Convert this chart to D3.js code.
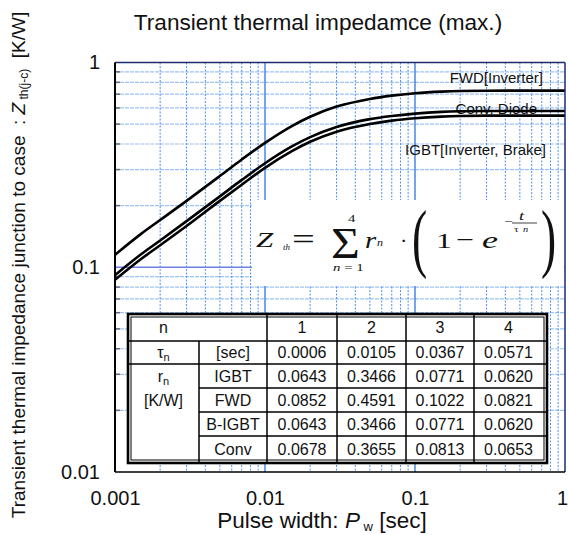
<html>
<head>
<script src="https://d3js.org/d3.v7.min.js"></script>
<style>
  body { margin: 0; background: #fff; }
  text { font-family: "Liberation Sans", Arial, sans-serif; fill: #111; }
  .math { font-family: "Liberation Serif", "Times New Roman", serif; }
</style>
</head>
<body>
<svg id="chart" width="569" height="535"></svg>
<script>

// values
const pulseWidth = [0.001, 0.0015, 0.002, 0.003, 0.005, 0.007, 0.01, 0.015, 0.02, 0.03, 0.05, 0.07, 0.1, 0.15, 0.2, 0.3, 0.5, 1]
const zthFWD  = [0.115, 0.146, 0.170, 0.211, 0.279, 0.336, 0.405, 0.488, 0.543, 0.609, 0.664, 0.689, 0.708, 0.721, 0.726, 0.728, 0.729, 0.729]
const zthConv = [0.0915, 0.116, 0.135, 0.168, 0.222, 0.267, 0.322, 0.388, 0.432, 0.484, 0.529, 0.548, 0.563, 0.574, 0.578, 0.580, 0.580, 0.580]
const zthIGBT = [0.0868, 0.110, 0.128, 0.159, 0.211, 0.253, 0.306, 0.368, 0.410, 0.459, 0.501, 0.520, 0.534, 0.544, 0.548, 0.550, 0.550, 0.550]

const xTicks = ["0.001", "0.01", "0.1", "1"]
const yTicks = ["0.01", "0.1", "1"]

const tableHead = ["1", "2", "3", "4"]
const tauN = ["0.0006", "0.0105", "0.0367", "0.0571"]
const rowNames = ["IGBT", "FWD", "B-IGBT", "Conv"]
const rIGBT  = ["0.0643", "0.3466", "0.0771", "0.0620"]
const rFWD   = ["0.0852", "0.4591", "0.1022", "0.0821"]
const rBIGBT = ["0.0643", "0.3466", "0.0771", "0.0620"]
const rConv  = ["0.0678", "0.3655", "0.0813", "0.0653"]

const svg = d3.select("#chart")
const pLeft = 115, pRight = 565, pTop = 62.5, pBottom = 472

const x = d3.scaleLog().domain([0.001, 1]).range([pLeft, pRight])
const y = d3.scaleLog().domain([0.01, 1]).range([pBottom, pTop])

svg.append("rect").attr("width", 569).attr("height", 535).attr("fill", "#fff")

// grid
let minorX = [], minorY = []
;[0.001, 0.01, 0.1].forEach(d => { for (let k = 2; k <= 9; k++) minorX.push(k * d) })
;[0.01, 0.1].forEach(d => { for (let k = 2; k <= 9; k++) minorY.push(k * d) })

const grid = svg.append("g")
grid.selectAll(".hy").data(minorY).join("line")
    .attr("x1", pLeft).attr("x2", pRight)
    .attr("y1", d => y(d)).attr("y2", d => y(d))
    .style("stroke", "#9ec4f4").style("stroke-width", 1.2).style("stroke-dasharray", "4,1")
grid.append("line")
    .attr("x1", pLeft).attr("x2", pRight).attr("y1", y(0.1)).attr("y2", y(0.1))
    .style("stroke", "#6f7fe6").style("stroke-width", 1.5)
grid.selectAll(".vx").data(minorX).join("line")
    .attr("x1", d => x(d)).attr("x2", d => x(d))
    .attr("y1", pTop).attr("y2", pBottom)
    .style("stroke", "#4a90ea").style("stroke-width", 1).style("stroke-dasharray", "2,1.5")
grid.selectAll(".vd").data([0.01, 0.1]).join("line")
    .attr("x1", d => x(d)).attr("x2", d => x(d))
    .attr("y1", pTop).attr("y2", pBottom)
    .style("stroke", "#3a7fe4").style("stroke-width", 1.4)
grid.selectAll(".tk").data(minorY).join("line")
    .attr("x1", pLeft).attr("x2", pLeft + 5)
    .attr("y1", d => y(d)).attr("y2", d => y(d))
    .style("stroke", "#667").style("stroke-width", 1.5)

// formula box
svg.append("rect").attr("x", 252).attr("y", 200).attr("width", pRight - 252 - 1).attr("height", 86).attr("fill", "#fff")

const f = svg.append("g")
function mt(px, py, size, txt, italic, sx) {
    return f.append("text").attr("class", "math")
        .attr("transform", `translate(${px},${py}) scale(${sx || 1},1)`)
        .style("font-size", size + "px").style("font-style", italic ? "italic" : "normal").text(txt)
}
mt(256, 247, 22, "Z", true, 1.4)
mt(283, 250, 9, "th", true, 1)
mt(292, 248.5, 30, "=", false, 1.35)
mt(331, 258, 45, "\u03A3", false, 1.1)
mt(348, 222, 10.5, "4", false, 1.4)
let nb = mt(333, 271, 11, "n", true, 1.35)
nb.append("tspan").style("font-style", "normal").text(" = 1")
mt(365, 248, 24, "r", true, 1.2)
mt(377, 246, 11, "n", true, 1.1)
mt(400, 247.5, 22, "\u00B7", false, 1)
mt(412, 263, 76, "(", false, 0.6)
mt(436, 248, 22, "1", false, 1.45)
mt(456, 246.5, 22, "\u2212", false, 1.45)
mt(482, 248, 24, "e", true, 1.5)
mt(504, 225, 11, "\u2212", false, 1.4)
mt(519, 220, 13, "t", true, 1.4)
f.append("line").attr("x1", 512).attr("x2", 537).attr("y1", 223).attr("y2", 223)
    .style("stroke", "#111").style("stroke-width", 0.8)
mt(514, 232, 9, "\u03C4", false, 1.3)
mt(523, 232, 8, "n", true, 1.3)
mt(541, 263, 76, ")", false, 0.6)

// table
const colX = [128, 199, 267, 337, 406, 474, 547]
const rowY = [314, 341, 364, 388, 412, 436, 463]
const tb = svg.append("g")
tb.append("rect").attr("x", colX[0]).attr("y", rowY[0])
    .attr("width", colX[6] - colX[0]).attr("height", rowY[6] - rowY[0])
    .attr("fill", "#fff").style("stroke", "#000").style("stroke-width", 2.6)
tb.append("rect").attr("x", colX[0] + 3).attr("y", rowY[0] + 3)
    .attr("width", colX[6] - colX[0] - 6).attr("height", rowY[6] - rowY[0] - 6)
    .attr("fill", "none").style("stroke", "#000").style("stroke-width", 1)
;[1, 2].forEach(i => tb.append("line").attr("x1", colX[0]).attr("x2", colX[6])
    .attr("y1", rowY[i]).attr("y2", rowY[i]).style("stroke", "#000").style("stroke-width", 1.5))
;[3, 4, 5].forEach(i => tb.append("line").attr("x1", colX[1]).attr("x2", colX[6])
    .attr("y1", rowY[i]).attr("y2", rowY[i]).style("stroke", "#000").style("stroke-width", 1.5))
tb.append("line").attr("x1", colX[1]).attr("x2", colX[1]).attr("y1", rowY[1]).attr("y2", rowY[6])
    .style("stroke", "#000").style("stroke-width", 1.5)
;[2, 3, 4, 5].forEach(i => tb.append("line").attr("x1", colX[i]).attr("x2", colX[i])
    .attr("y1", rowY[0]).attr("y2", rowY[6]).style("stroke", "#000").style("stroke-width", 1.5))

const colC = i => (colX[i] + colX[i + 1]) / 2 - (i == 5 ? 2 : 0)
const rowC = j => (rowY[j] + rowY[j + 1]) / 2 + 5.5
function cell(px, py, txt) {
    return tb.append("text").attr("x", px).attr("y", py).attr("text-anchor", "middle")
        .style("font-size", "16px").text(txt)
}
cell(colC(0), rowC(0), "n")
tableHead.forEach((t, i) => cell(colC(i + 2), rowC(0), t))
let tau = cell(colC(0), rowC(1), "\u03C4")
tau.append("tspan").attr("dy", 3).style("font-size", "11px").text("n")
cell(colC(1), rowC(1), "[sec]")
tauN.forEach((t, i) => cell(colC(i + 2), rowC(1), t))
let rn = cell(colC(0), 382, "r")
rn.append("tspan").attr("dy", 3).style("font-size", "11px").text("n")
cell(colC(0), 406, "[K/W]")
const rRows = [rIGBT, rFWD, rBIGBT, rConv]
rowNames.forEach((name, j) => {
    cell(colC(1), rowC(j + 2), name)
    rRows[j].forEach((v, i) => cell(colC(i + 2), rowC(j + 2), v))
})

// curve labels
const curveLabels = ["FWD[Inverter]", "Conv. Diode", "IGBT[Inverter, Brake]"]
const labelPos = [[543, 83], [537, 114], [546, 155]]
curveLabels.forEach((t, i) => svg.append("text")
    .attr("x", labelPos[i][0]).attr("y", labelPos[i][1]).attr("text-anchor", "end")
    .style("font-size", "15px").text(t))

// curves
svg.append("clipPath").attr("id", "clip").append("rect")
    .attr("x", pLeft).attr("y", pTop).attr("width", pRight - pLeft).attr("height", pBottom - pTop)
const line = d3.line().x(d => x(d[0])).y(d => y(d[1])).curve(d3.curveMonotoneX)
;[zthFWD, zthConv, zthIGBT].forEach(series => {
    svg.append("path").datum(d3.zip(pulseWidth, series))
        .attr("d", line).attr("clip-path", "url(#clip)")
        .style("fill", "none").style("stroke", "#000").style("stroke-width", 2.6)
})

// frame
svg.append("line").attr("x1", pLeft).attr("x2", pRight).attr("y1", pTop).attr("y2", pTop)
    .style("stroke", "#1d2a6a").style("stroke-width", 1.5)
svg.append("line").attr("x1", pRight).attr("x2", pRight).attr("y1", pTop).attr("y2", pBottom)
    .style("stroke", "#1d2a6a").style("stroke-width", 1.5)
svg.append("line").attr("x1", pLeft).attr("x2", pRight).attr("y1", pBottom).attr("y2", pBottom)
    .style("stroke", "#000").style("stroke-width", 1.5)
svg.append("line").attr("x1", pLeft).attr("x2", pLeft).attr("y1", pTop).attr("y2", pBottom)
    .style("stroke", "#000").style("stroke-width", 2)

// axes
const xAxis = svg.append("g").attr("transform", `translate(0,${pBottom})`)
    .call(d3.axisBottom(x).tickValues(xTicks.map(Number)).tickFormat((d, i) => xTicks[i]).tickSize(0).tickPadding(19))
const yAxis = svg.append("g").attr("transform", `translate(${pLeft},0)`)
    .call(d3.axisLeft(y).tickValues(yTicks.map(Number)).tickFormat((d, i) => yTicks[i]).tickSize(0).tickPadding(15))
;[xAxis, yAxis].forEach(a => {
    a.select(".domain").remove()
    a.selectAll("text").style("font-size", "20px").style("font-family", "'Liberation Sans', Arial, sans-serif").attr("fill", "#111")
})
xAxis.selectAll(".tick").filter(d => d === 1).select("text").attr("dx", -3)

// titles
svg.append("text").attr("x", 318).attr("y", 30).attr("text-anchor", "middle")
    .style("font-size", "22.6px").text("Transient thermal impedamce (max.)")

const xl = svg.append("text").attr("x", 322).attr("y", 528).attr("text-anchor", "middle")
    .style("font-size", "22.5px").text("Pulse width: ")
xl.append("tspan").style("font-style", "italic").text("P")
xl.append("tspan").attr("dy", 3).style("font-size", "13px").text("\u00A0w")
xl.append("tspan").attr("dy", -3).text("\u00A0[sec]")

const yl = svg.append("text").attr("transform", "translate(25,265) rotate(-90)")
    .attr("text-anchor", "middle").style("font-size", "19px")
    .text("Transient thermal impedance junction to case\u00A0 :\u00A0")
yl.append("tspan").style("font-style", "italic").text("Z")
yl.append("tspan").attr("dy", 3).style("font-size", "12px").text("\u00A0th(j-c)")
yl.append("tspan").attr("dy", -3).text("\u00A0\u00A0[K/W]")

</script>
</body>
</html>
